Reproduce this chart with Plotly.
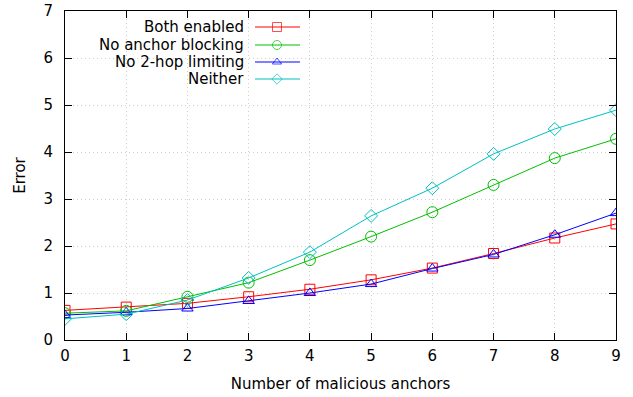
import plotly.graph_objects as go

x = [0, 1, 2, 3, 4, 5, 6, 7, 8, 9]
both_enabled = [0.63, 0.70, 0.78, 0.92, 1.08, 1.28, 1.53, 1.84, 2.17, 2.47]
no_anchor_blocking = [0.57, 0.62, 0.92, 1.22, 1.70, 2.20, 2.72, 3.30, 3.87, 4.28]
no_2hop_limiting = [0.53, 0.59, 0.67, 0.83, 1.00, 1.19, 1.52, 1.82, 2.24, 2.70]
neither = [0.45, 0.55, 0.85, 1.32, 1.87, 2.64, 3.23, 3.96, 4.49, 4.89]

names = ["Both enabled", "No anchor blocking", "No 2-hop limiting", "Neither"]
series = [both_enabled, no_anchor_blocking, no_2hop_limiting, neither]
colors = ["#ff0000", "#00c000", "#0000ff", "#00c0c0"]
symbols = ["square-open", "circle-open", "triangle-up-open", "diamond-open"]
sizes = [10, 11, 10, 10]
leg_sizes = [9, 9, 8, 8]

FONT = "DejaVu Sans"
FS = 15
W, H = 633, 397
L, R, T, B = 65, 17, 11, 57

fig = go.Figure()
for nm, ys, c, s, sz in zip(names, series, colors, symbols, sizes):
    fig.add_trace(go.Scatter(x=x, y=ys, name=nm, mode="lines+markers",
                             line=dict(color=c, width=1),
                             marker=dict(symbol=s, size=sz, color=c, line=dict(width=1, color=c)),
                             showlegend=False))

# gnuplot-style legend: text right-aligned, sample on the right
pw = W - L - R
ph = H - T - B
def px_to_paper_x(px):
    return (px - L) / pw
def px_to_paper_y(py):
    return 1 - (py - T) / ph

rows_y = [27, 45, 62, 79]
text_right = 246
line_x0, line_x1, mark_x = 255, 300, 277
for nm, c, s, sz, ry in zip(names, colors, symbols, leg_sizes, rows_y):
    fig.add_annotation(x=px_to_paper_x(text_right), y=px_to_paper_y(ry), xref="paper", yref="paper",
                       text=nm, showarrow=False, xanchor="right", yanchor="middle",
                       font=dict(family=FONT, size=FS, color="black"))
    fig.add_trace(go.Scatter(x=[px_to_paper_x(line_x0), px_to_paper_x(mark_x), px_to_paper_x(line_x1)],
                             y=[px_to_paper_y(ry)] * 3, xaxis="x2", yaxis="y2",
                             mode="lines+markers", line=dict(color=c, width=1),
                             marker=dict(symbol=s, size=[0, sz, 0], color=c, line=dict(width=1, color=c)),
                             showlegend=False, hoverinfo="skip"))

axis_common = dict(showline=True, linecolor="black", linewidth=1, mirror="allticks",
                   ticks="inside", ticklen=7, tickcolor="black", automargin=False,
                   showgrid=True, gridcolor="#cfcfcf", griddash="1px,3px", gridwidth=1,
                   zeroline=False, tickfont=dict(family=FONT, size=FS, color="black"))

fig.update_layout(
    width=W, height=H,
    margin=dict(l=L, r=R, t=T, b=B),
    plot_bgcolor="white", paper_bgcolor="white",
    font=dict(family=FONT, size=FS, color="black"),
    xaxis=dict(range=[0, 9], dtick=1, ticklabelstandoff=2,
               title=dict(text="Number of malicious anchors", standoff=14,
                          font=dict(family=FONT, size=FS)), **axis_common),
    yaxis=dict(range=[0, 7], dtick=1, ticklabelstandoff=8,
               title=dict(text="Error", standoff=14,
                          font=dict(family=FONT, size=FS)), **axis_common),
    xaxis2=dict(range=[0, 1], overlaying="x", visible=False, fixedrange=True),
    yaxis2=dict(range=[0, 1], overlaying="y", visible=False, fixedrange=True),
)

fig.write_html("out.html")
